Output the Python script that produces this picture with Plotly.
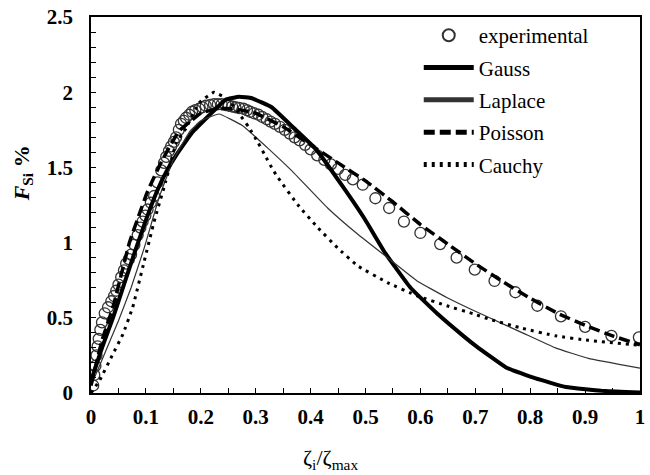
import plotly.graph_objects as go

# ---- data ----
exp_x = [0.004, 0.006, 0.008, 0.010, 0.012, 0.014, 0.017, 0.020, 0.025, 0.031,
         0.037, 0.042, 0.046, 0.050, 0.055, 0.060, 0.064, 0.069, 0.073, 0.079,
         0.085, 0.090, 0.094, 0.099, 0.103, 0.109, 0.115, 0.121, 0.128, 0.133,
         0.137, 0.142, 0.146, 0.151, 0.155, 0.160, 0.164, 0.169, 0.173, 0.179,
         0.184, 0.190, 0.197, 0.203, 0.209, 0.217, 0.224, 0.231, 0.238, 0.245,
         0.251, 0.257, 0.263, 0.270, 0.278, 0.284, 0.290, 0.297, 0.305, 0.312,
         0.320, 0.327, 0.335, 0.344, 0.353, 0.362, 0.371, 0.380, 0.390, 0.400,
         0.412, 0.425, 0.437, 0.450, 0.463, 0.477, 0.495, 0.518, 0.543, 0.570,
         0.600, 0.636, 0.666, 0.699, 0.735, 0.773, 0.813, 0.856, 0.900, 0.948,
         0.998]
exp_y = [0.05, 0.12, 0.18, 0.25, 0.31, 0.36, 0.42, 0.47, 0.53, 0.57,
         0.61, 0.645, 0.68, 0.72, 0.77, 0.815, 0.86, 0.89, 0.92, 0.985,
         1.05, 1.10, 1.14, 1.18, 1.22, 1.265, 1.31, 1.40, 1.48, 1.53,
         1.57, 1.61, 1.64, 1.67, 1.70, 1.75, 1.79, 1.81, 1.83, 1.85,
         1.87, 1.88, 1.89, 1.90, 1.91, 1.915, 1.92, 1.92, 1.92, 1.915,
         1.91, 1.905, 1.90, 1.895, 1.89, 1.88, 1.87, 1.86, 1.85, 1.835,
         1.82, 1.805, 1.79, 1.77, 1.75, 1.725, 1.70, 1.68, 1.65, 1.62,
         1.58, 1.55, 1.52, 1.49, 1.45, 1.42, 1.385, 1.295, 1.23, 1.14,
         1.064, 0.99, 0.90, 0.82, 0.745, 0.67, 0.58, 0.51, 0.44, 0.38,
         0.37]

gauss_x = [0.0, 0.02, 0.04, 0.06, 0.08, 0.10, 0.12, 0.137, 0.155, 0.185, 0.215,
           0.245, 0.27, 0.293, 0.329, 0.37, 0.41, 0.461, 0.498, 0.536, 0.582,
           0.63, 0.678, 0.702, 0.756, 0.81, 0.865, 0.937, 1.0]
gauss_y = [0.08, 0.30, 0.50, 0.72, 0.94, 1.15, 1.34, 1.47, 1.58, 1.735, 1.845,
           1.95, 1.97, 1.96, 1.90, 1.76, 1.62, 1.36, 1.16, 0.93, 0.70,
           0.53, 0.38, 0.31, 0.17, 0.097, 0.04, 0.013, 0.003]

laplace_x = [0.0, 0.02, 0.05, 0.073, 0.097, 0.124, 0.15, 0.18, 0.20, 0.233, 0.275,
             0.323, 0.365, 0.431, 0.486, 0.54, 0.594, 0.648, 0.696, 0.726, 0.786,
             0.846, 0.906, 1.0]
laplace_y = [0.05, 0.22, 0.48, 0.70, 0.965, 1.30, 1.55, 1.74, 1.81, 1.855, 1.78,
             1.625, 1.48, 1.23, 1.055, 0.90, 0.745, 0.635, 0.55, 0.50, 0.40,
             0.30, 0.23, 0.165]

poisson_x = [0.0, 0.02, 0.04, 0.07, 0.088, 0.103, 0.13, 0.16, 0.20, 0.23, 0.26,
             0.30, 0.35, 0.40, 0.45, 0.50, 0.55, 0.60, 0.65, 0.70, 0.75, 0.80,
             0.85, 0.90, 0.95, 1.0]
poisson_y = [0.05, 0.35, 0.57, 1.00, 1.19, 1.34, 1.55, 1.74, 1.86, 1.89, 1.89,
             1.86, 1.77, 1.65, 1.53, 1.41, 1.27, 1.12, 0.99, 0.86, 0.74, 0.63,
             0.53, 0.45, 0.38, 0.32]

cauchy_x = [0.0, 0.016, 0.04, 0.058, 0.076, 0.097, 0.115, 0.136, 0.155, 0.173,
            0.197, 0.224, 0.25, 0.269, 0.287, 0.305, 0.317, 0.332, 0.341, 0.377,
            0.413, 0.449, 0.486, 0.54, 0.594, 0.648, 0.696, 0.726, 0.786, 0.846,
            0.906, 1.0]
cauchy_y = [0.0, 0.086, 0.26, 0.39, 0.57, 0.877, 1.14, 1.405, 1.66, 1.76,
            1.93, 2.0, 1.95, 1.86, 1.77, 1.66, 1.58, 1.48, 1.43, 1.25,
            1.10, 0.965, 0.845, 0.734, 0.646, 0.58, 0.527, 0.49, 0.43, 0.38,
            0.35, 0.317]

x_ticks = [0, 0.1, 0.2, 0.3, 0.4, 0.5, 0.6, 0.7, 0.8, 0.9, 1]
x_ticktext = ["0", "0.1", "0.2", "0.3", "0.4", "0.5", "0.6", "0.7", "0.8", "0.9", "1"]
y_ticks = [0, 0.5, 1, 1.5, 2, 2.5]
y_ticktext = ["0", "0.5", "1", "1.5", "2", "2.5"]

FONT = "Liberation Serif"

fig = go.Figure()
fig.add_trace(go.Scatter(
    x=exp_x, y=exp_y, mode="markers", name="experimental", legendgroup="a",
    marker=dict(symbol="circle-open", size=11, color="#333333",
                line=dict(width=1.3, color="#333333"))))
fig.add_trace(go.Scatter(
    x=gauss_x, y=gauss_y, mode="lines", name="Gauss", legendgroup="b",
    line=dict(color="black", width=4, shape="spline", smoothing=0.3)))
fig.add_trace(go.Scatter(
    x=laplace_x, y=laplace_y, mode="lines", name="Laplace", legendgroup="c",
    line=dict(color="#333333", width=1.2, shape="spline", smoothing=0.3)))
fig.add_trace(go.Scatter(
    x=poisson_x, y=poisson_y, mode="lines", name="Poisson", legendgroup="d",
    line=dict(color="black", width=3.5, dash="11px,5px", shape="spline", smoothing=0.3)))
fig.add_trace(go.Scatter(
    x=cauchy_x, y=cauchy_y, mode="lines", name="Cauchy", legendgroup="e",
    line=dict(color="black", width=3, dash="3px,5px", shape="spline", smoothing=0.3)))

axis_common = dict(
    showgrid=False, zeroline=False, showline=True, linecolor="black",
    linewidth=1.8, mirror=True, ticks="inside", ticklen=5, tickwidth=1.2,
    tickcolor="black",
    tickfont=dict(family=FONT, size=21, color="black", weight="bold"),
)

fig.update_xaxes(range=[0, 1],
                 minor=dict(dtick=0.05, tick0=0, ticks="inside", ticklen=5, tickcolor="black"),
                 tickvals=x_ticks, ticktext=x_ticktext,
                 ticklabelstandoff=4, **axis_common)
fig.update_yaxes(range=[0, 2.5],
                 minor=dict(dtick=0.1, tick0=0, ticks="inside", ticklen=5, tickcolor="black"),
                 tickvals=y_ticks, ticktext=y_ticktext,
                 ticklabelstandoff=12, **axis_common)

fig.update_layout(
    width=650, height=475,
    margin=dict(l=91, r=5, t=14, b=82),
    plot_bgcolor="white", paper_bgcolor="white",
    font=dict(family=FONT, color="black"),
    showlegend=True,
    legend=dict(x=0.597, y=1.005, xanchor="left", yanchor="top",
                bgcolor="rgba(255,255,255,0)", borderwidth=0,
                font=dict(family=FONT, size=21, color="black"),
                tracegroupgap=2, itemwidth=50, itemsizing="constant"),
    annotations=[
        dict(text="ζ<sub>i</sub>/ζ<sub>max</sub>", xref="paper", yref="paper",
             x=(333 - 91) / 554, y=-(460 - 393) / 379, showarrow=False,
             xanchor="center", yanchor="middle",
             font=dict(family=FONT, size=22, color="black")),
        dict(text="<i>F</i><sub>Si</sub> %", xref="paper", yref="paper",
             x=-(91 - 22) / 554, y=(393 - 172) / 379, showarrow=False,
             textangle=-90, xanchor="center", yanchor="middle",
             font=dict(family=FONT, size=22, color="black", weight="bold")),
    ],
)

fig.write_html("out.html")
